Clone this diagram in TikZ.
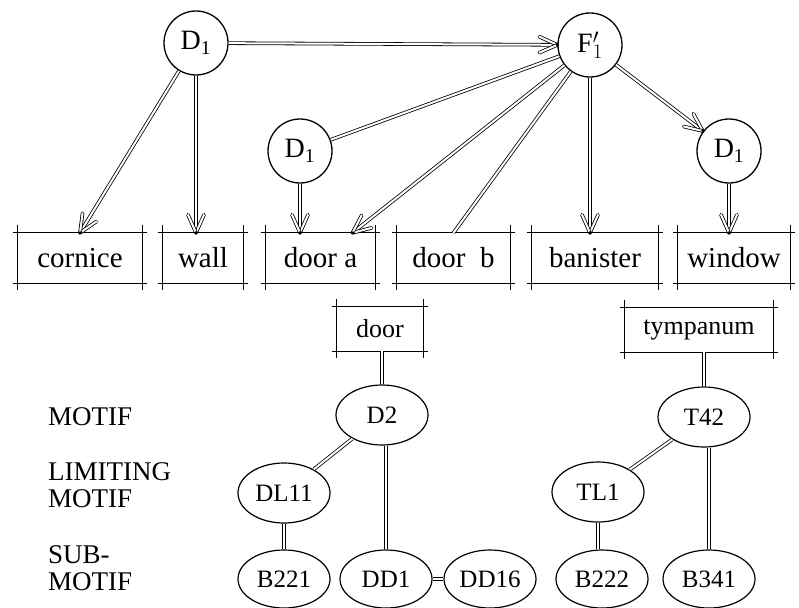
\documentclass[tikz,border=0pt]{standalone}
\usepackage{fontspec}
\setmainfont{Liberation Serif}
\usetikzlibrary{arrows.meta,calc,shapes.geometric,decorations.markings}

\tikzset{
  link/.style={line width=0.8pt, double distance=2pt, double=white},
  % open double-stroked V head at the end of a double line
  arrowlink/.style={link, postaction={decorate, decoration={markings,
      mark=at position 1 with {
        \draw[link, line cap=round] (-18pt,8pt) -- (0pt,0pt);
        \draw[link, line cap=round] (-18pt,-8pt) -- (0pt,0pt);
        \fill (0pt,0pt) circle (1.8pt);
      }}}},
  elem/.style={circle, draw, line width=1.3pt, minimum size=64pt, inner sep=0pt,
    font=\fontsize{28}{30}\selectfont},
  part/.style={inner sep=0pt, minimum height=50pt, font=\fontsize{29}{32}\selectfont},
  subpart/.style={inner sep=0pt, minimum height=44pt, font=\fontsize{26}{28}\selectfont},
  motif/.style={ellipse, draw, line width=1.2pt, minimum width=92pt, minimum height=60pt,
    inner sep=0pt, font=\fontsize{25}{28}\selectfont},
  lowmotif/.style={motif, minimum height=58pt},
  level/.style={align=left, inner sep=0pt, font=\fontsize{27}{27}\selectfont},
  sketch/.style={line width=1pt},
}

\begin{document}
\begin{tikzpicture}[x=1pt, y=-1pt]
\useasboundingbox (0,0) rectangle (799,607);

% composition elements
\node[elem] (D1a) at (196,43) {D\textsubscript{1}};
\node[elem] (F1)  at (590,45) {F$^{\prime}_{1}$};
\node[elem] (D1b) at (300,151) {D\textsubscript{1}};
\node[elem] (D1c) at (729,151) {D\textsubscript{1}};

% building parts
\node[part, minimum width=124pt] (cornice)  at (80,258)    {cornice};
\node[part, minimum width=80pt]  (wall)     at (203,258)   {wall};
\node[part, minimum width=109pt] (doora)    at (320.5,258) {door a};
\node[part, minimum width=113pt] (doorb)    at (453.5,258) {door\hspace{0.5em}b};
\node[part, minimum width=126pt] (banister) at (595,258)   {banister};
\node[part, minimum width=112pt] (window)   at (734,258)   {window};

\node[subpart, minimum width=86pt]  (door)     at (380,329) {door};
\node[subpart, minimum width=148pt] (tympanum) at (699,330) {tympanum};

% sketched frames with overshooting corners
\foreach \n in {cornice,wall,doora,doorb,banister,window,door,tympanum}{
  \draw[sketch] ($(\n.north west)+(-5,0)$) -- ($(\n.north east)+(5,0)$);
  \draw[sketch] ($(\n.south west)+(-5,0)$) -- ($(\n.south east)+(5,0)$);
  \draw[sketch] ($(\n.north west)+(0,-8)$) -- ($(\n.south west)+(0,7)$);
  \draw[sketch] ($(\n.north east)+(0,-8)$) -- ($(\n.south east)+(0,7)$);
}

% motif hierarchy
\node[motif] (D2)   at (382,415) {D2};
\node[motif] (DL11) at (284,493) {DL11};
\node[lowmotif] (B221) at (284,579) {B221};
\node[lowmotif] (DD1)  at (386,579) {DD1};
\node[lowmotif] (DD16) at (490,579) {DD16};

\node[motif] (T42) at (704,417) {T42};
\node[motif] (TL1) at (598,492) {TL1};
\node[lowmotif] (B222) at (602,579) {B222};
\node[lowmotif] (B341) at (709,579) {B341};

% level labels
\node[level, anchor=base west]  (lvmotif) at (48,425) {MOTIF};
\node[level, anchor=north west] (lvlim)   at (48,462) {LIMITING\\MOTIF};
\node[level, anchor=north west] (lvsub)   at (48,545) {SUB-\\MOTIF};

% relations between elements and parts
\draw[arrowlink] (D1a) -- (F1);
\draw[arrowlink] (D1a) -- (cornice.north);
\draw[arrowlink] (D1a.south) -- (D1a.south |- wall.north);
\draw[link] (F1) -- (D1b);
\coordinate (doorAin) at ($(doora.north)+(32,0)$);
\draw[arrowlink] (F1) -- (doorAin);
\draw[link] (F1) -- (doorb.north);
\draw[arrowlink] (F1.south) -- (F1.south |- banister.north);
\draw[arrowlink] (F1) -- (D1c);
\draw[arrowlink] (D1b.south) -- (D1b.south |- doora.north);
\draw[arrowlink] (D1c.south) -- (D1c.south |- window.north);

% motif links
\draw[link] (D2.north |- door.south) -- (D2.north);
\draw[link] (D2) -- (DL11);
\draw[link] (DD1.north |- D2.south) -- (DD1.north);
\draw[link] (DL11.south) -- (DL11.south |- B221.north);
\draw[link] (DD1) -- (DD16);
\draw[link] (T42.north |- tympanum.south) -- (T42.north);
\draw[link] (T42) -- (TL1);
\draw[link] (B341.north |- T42.south) -- (B341.north);
\draw[link] (TL1.south) -- (TL1.south |- B222.north);
\end{tikzpicture}
\end{document}
